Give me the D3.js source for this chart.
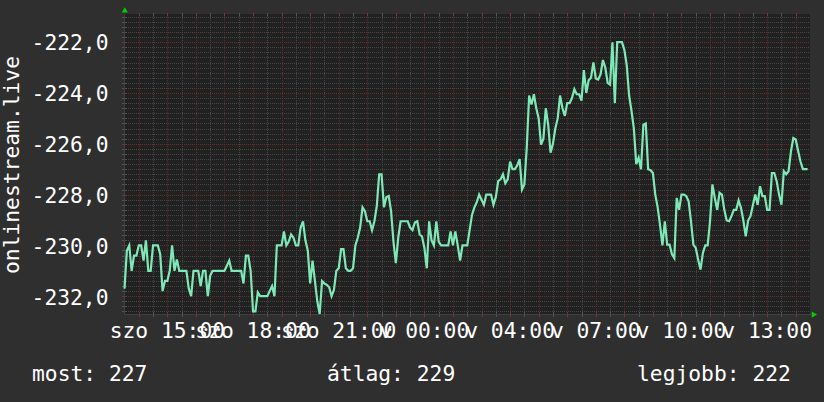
<!DOCTYPE html>
<html>
<head>
<meta charset="utf-8">
<script src="https://cdn.jsdelivr.net/npm/d3@7/dist/d3.min.js"></script>
<style>
  body { margin: 0; background: #2f2f2f; }
  svg { display: block; font-family: "DejaVu Sans Mono", monospace; }
</style>
</head>
<body>
<div id="chart"></div>
<script>
// 5 perces minták, szo 13:30-tól (24 óra)
var stepMinutes = 5;
var values = [
  -231.7, -230.2, -230, -231, -230.4, -230.4, -230, -230, -230.6, -229.8,
  -231, -231, -230, -230, -230, -230.35, -231.8, -231.4, -231.4, -231,
  -230, -231, -230.55, -231, -231, -231, -231, -231.7, -232, -231,
  -231, -231, -231.6, -231, -231, -232, -231.2, -231, -231, -231,
  -231, -231, -231, -230.8, -230.6, -231, -231, -231, -231, -231,
  -231.5, -230.4, -230.4, -231, -232.6, -232.6, -231.85, -232, -232, -232,
  -232, -231.8, -231.6, -232, -230, -230, -230, -229.45, -230, -229.85,
  -229.57, -229.7, -230, -230, -229.3, -229.05, -229.8, -230.2, -231.5, -230.6,
  -231.4, -232.2, -232.7, -231.4, -231.5, -231.55, -231.65, -232, -231.75, -231,
  -230.9, -230.15, -230.15, -230.9, -231, -231, -230.9, -230, -229.7, -229.3,
  -228.5, -228.65, -229.05, -229.05, -229.4, -229.05, -228.45, -227.2, -227.2, -228.5,
  -228.1, -228.05, -228.65, -229.85, -230.7, -229.7, -229.05, -229.05, -229.05, -229.05,
  -229.3, -229.4, -229.1, -229.05, -229.57, -229.65, -230.1, -230.9, -229.05, -229.8,
  -230, -229.05, -229.85, -230, -230, -230, -230, -229.45, -230, -229.45,
  -230, -230.6, -230, -230, -230, -229.4, -228.8, -228.5, -228.3, -228,
  -228.2, -228.4, -228, -228, -228, -228.4, -228.1, -227.47, -227.4, -227.2,
  -227.55, -227.4, -226.7, -227, -227, -226.85, -226.6, -227.8, -227.6, -226.15,
  -224.1, -224.45, -224.05, -224.6, -225, -226.03, -225.8, -224.6, -225.25, -226.35,
  -226, -225.4, -225, -224.1, -224.6, -224.9, -224.4, -224.4, -224.2, -223.85,
  -224.05, -224.05, -224.3, -223.1, -224, -223.5, -223.4, -222.8, -223.43, -223.47,
  -223.27, -222.7, -223, -223.6, -223.67, -222, -224.4, -222, -222, -222,
  -222.3, -222.9, -224.1, -224.7, -225.4, -226.8, -226.55, -227, -225.25, -225.2,
  -227, -227.04, -227.15, -228, -228.5, -229.2, -230, -229.05, -229.97, -229.97,
  -230.35, -230.5, -228.13, -228.6, -228, -228, -228.06, -228.26, -229.05, -229.97,
  -230.1, -230.56, -230.95, -230.3, -230, -230, -229.05, -227.6, -228.13, -228.6,
  -227.93, -228, -228.6, -229.02, -229.05, -228.85, -228.6, -228.6, -228.23, -228.52,
  -229.02, -229.64, -229.02, -228.85, -228.42, -228, -228.4, -227.67, -228.06, -228.06,
  -228.6, -228.6, -227.15, -227.15, -227.47, -228, -228.4, -227.08, -227.2, -227.08,
  -226.3, -225.77, -225.83, -226.27, -226.7, -227, -227, -227
];

// órák a bal széltől (szo 13:30)
var tickHours = [1.5, 4.5, 7.5, 10.5, 13.5, 16.5, 19.5, 22.5];
var tickLabels = ["szo 15:00", "szo 18:00", "szo 21:00", "v 00:00", "v 04:00", "v 07:00", "v 10:00", "v 13:00"];
var yTicks = [-222, -224, -226, -228, -230, -232];
var yTitle = "onlinestream.live";

var width = 824,
    height = 402;

var minorColor = "#454545",
    majorColor = "#5e2a2a";

var x = d3.scaleLinear()
    .domain([0, 24])
    .range([124.5, 810]);

var y = d3.scaleLinear()
    .domain([-232.74, -220.89])
    .range([315, 14]);

var fmt = d3.formatLocale({decimal: ",", thousands: " ", grouping: [3], currency: ["", ""], minus: "-"}).format(".1f");

var svg = d3.select("#chart").append("svg")
    .attr("width", width)
    .attr("height", height);

svg.append("rect")
    .attr("width", width)
    .attr("height", height)
    .attr("fill", "#2f2f2f");

svg.append("rect")
    .attr("x", 124)
    .attr("y", 14)
    .attr("width", 686)
    .attr("height", 301)
    .attr("fill", "#212121");

var grid = svg.append("g").attr("shape-rendering", "crispEdges");

// minor grid
var minorY = d3.range(-2326, -2209, 2).map(function(d) { return d / 10; });
grid.selectAll(".hminor")
    .data(minorY.filter(function(d) { return yTicks.indexOf(d) < 0; }))
  .enter().append("line")
    .attr("x1", 124).attr("x2", 810)
    .attr("y1", function(d) { return Math.round(y(d)) + 0.5; })
    .attr("y2", function(d) { return Math.round(y(d)) + 0.5; })
    .attr("stroke", minorColor)
    .attr("stroke-dasharray", "1,1");

var halfHours = d3.range(1, 24);
grid.selectAll(".vminor")
    .data(halfHours)
  .enter().append("line")
    .attr("x1", function(d) { return Math.round(x(d)) + 0.5; })
    .attr("x2", function(d) { return Math.round(x(d)) + 0.5; })
    .attr("y1", 14).attr("y2", 315)
    .attr("stroke", minorColor)
    .attr("stroke-dasharray", "1,1");

// major grid
grid.selectAll(".hmajor")
    .data(yTicks)
  .enter().append("line")
    .attr("x1", 124).attr("x2", 810)
    .attr("y1", function(d) { return Math.round(y(d)) + 0.5; })
    .attr("y2", function(d) { return Math.round(y(d)) + 0.5; })
    .attr("stroke", "#6a2c2c")
    .attr("stroke-dasharray", "1,1");

var hours = d3.range(0.5, 24, 1);
grid.selectAll(".vmajor")
    .data(hours)
  .enter().append("line")
    .attr("x1", function(d) { return Math.round(x(d)) + 0.5; })
    .attr("x2", function(d) { return Math.round(x(d)) + 0.5; })
    .attr("y1", 14).attr("y2", 315)
    .attr("stroke", majorColor)
    .attr("stroke-dasharray", "1,1");

// tick marks on the borders
var vt = halfHours.map(function(d) { return {t: d, c: "#555555"}; })
    .concat(hours.map(function(d) { return {t: d, c: "#7e3434"}; }));
grid.selectAll(".vtb")
    .data(vt)
  .enter().append("line")
    .attr("x1", function(d) { return Math.round(x(d.t)) + 0.5; })
    .attr("x2", function(d) { return Math.round(x(d.t)) + 0.5; })
    .attr("y1", 312).attr("y2", 317)
    .attr("stroke", function(d) { return d.c; });
grid.selectAll(".vtt")
    .data(vt)
  .enter().append("line")
    .attr("x1", function(d) { return Math.round(x(d.t)) + 0.5; })
    .attr("x2", function(d) { return Math.round(x(d.t)) + 0.5; })
    .attr("y1", 13).attr("y2", 16)
    .attr("stroke", function(d) { return d.c; });
grid.selectAll(".ht")
    .data(minorY)
  .enter().append("line")
    .attr("x1", 122).attr("x2", 127)
    .attr("y1", function(d) { return Math.round(y(d)) + 0.5; })
    .attr("y2", function(d) { return Math.round(y(d)) + 0.5; })
    .attr("stroke", function(d) { return yTicks.indexOf(d) < 0 ? "#555555" : "#7e3434"; });

// axes
grid.append("line")
    .attr("x1", 124.5).attr("x2", 124.5)
    .attr("y1", 14).attr("y2", 315)
    .attr("stroke", "#404040");
grid.append("line")
    .attr("x1", 124).attr("x2", 812)
    .attr("y1", 314.5).attr("y2", 314.5)
    .attr("stroke", "#404040");

// arrows
svg.append("path")
    .attr("d", d3.symbol().type(d3.symbolTriangle).size(16))
    .attr("transform", "translate(124.8,10.8)")
    .attr("fill", "#00d000");
svg.append("path")
    .attr("d", d3.symbol().type(d3.symbolTriangle).size(16))
    .attr("transform", "translate(813.5,314.6) rotate(90)")
    .attr("fill", "#00d000");

// data line
var line = d3.line()
    .x(function(d, i) { return x(i * stepMinutes / 60); })
    .y(function(d) { return y(d); });

svg.append("path")
    .datum(values)
    .attr("fill", "none")
    .attr("stroke", "#7ee8b6")
    .attr("stroke-width", 2.2)
    .attr("d", line);

// labels
svg.selectAll(".ylab")
    .data(yTicks)
  .enter().append("text")
    .attr("x", 108.5)
    .attr("y", function(d) { return y(d) + 8.3; })
    .attr("text-anchor", "end")
    .attr("fill", "#fff")
    .attr("font-size", "21.3px")
    .text(function(d) { return fmt(d); });

svg.selectAll(".xlab")
    .data(tickHours)
  .enter().append("text")
    .attr("x", function(d) { return x(d); })
    .attr("y", 338.3)
    .attr("text-anchor", "middle")
    .attr("fill", "#fff")
    .attr("font-size", "21.3px")
    .text(function(d, i) { return tickLabels[i]; });

svg.append("text")
    .attr("transform", "translate(18.5,165) rotate(-90)")
    .attr("text-anchor", "middle")
    .attr("fill", "#fff")
    .attr("font-size", "21.3px")
    .text(yTitle);

// legend
var last = values[values.length - 1],
    avg = d3.mean(values),
    best = d3.max(values);

var legend = [
  {text: "most: " + Math.round(-last), x: 32},
  {text: "átlag: " + Math.round(-avg), x: 327},
  {text: "legjobb: " + Math.round(-best), x: 637}
];

svg.selectAll(".leg")
    .data(legend)
  .enter().append("text")
    .attr("x", function(d) { return d.x; })
    .attr("y", 381)
    .attr("fill", "#fff")
    .attr("font-size", "21.3px")
    .text(function(d) { return d.text; });
</script>
</body>
</html>
